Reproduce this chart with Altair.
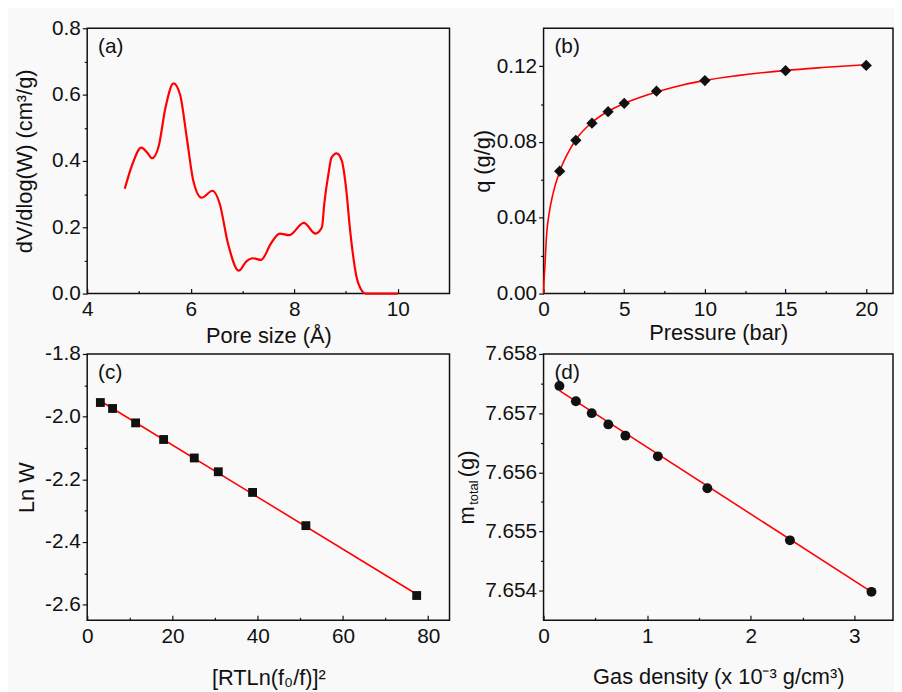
import altair as alt
import pandas as pd

FONT = "Liberation Sans"
RED = "#ff0000"
INK = "#111111"

# ---------------- (a) pore size distribution ----------------
pore_size = [4.726, 4.873, 5.045, 5.16, 5.255, 5.382, 5.51, 5.669, 5.796, 5.924,
             6.05, 6.21, 6.42, 6.56, 6.72, 6.93, 7.07, 7.20, 7.36, 7.55,
             7.72, 7.90, 8.185, 8.41, 8.535, 8.58, 8.66, 8.72, 8.82, 8.92,
             9.0, 9.08, 9.2, 9.3, 9.38, 10.0]
dv_dlogw = [0.316, 0.390, 0.440, 0.425, 0.408, 0.445, 0.559, 0.634, 0.599, 0.470,
            0.340, 0.289, 0.310, 0.271, 0.151, 0.069, 0.0965, 0.1065, 0.1015, 0.151,
            0.181, 0.176, 0.213, 0.181, 0.200, 0.270, 0.360, 0.410, 0.423, 0.400,
            0.320, 0.190, 0.053, 0.010, 0.0, 0.0]

# ---------------- (b) isotherm ----------------
pressure = [1, 2, 3, 4, 5, 7, 10, 15, 20]
q_gg = [0.0646, 0.0809, 0.0899, 0.0960, 0.1004, 0.1068, 0.1124, 0.1176, 0.1204]
fit_pressure = [0, 0.02, 0.05, 0.08, 0.18, 0.38, 0.58, 1, 1.5, 2, 3, 4, 5, 6, 7, 8,
                10, 12, 15, 17.5, 20]
fit_q = [0, 0.005, 0.010, 0.014, 0.030, 0.044, 0.0525, 0.0645, 0.0740, 0.0812,
         0.0903, 0.0962, 0.1003, 0.1036, 0.1064, 0.1088, 0.1125, 0.1150, 0.1178,
         0.1194, 0.1208]

# ---------------- (c) DR plot ----------------
rtln_sq = [3.09, 5.95, 11.36, 17.93, 25.12, 30.76, 38.8, 51.3, 77.3]
ln_w = [-1.955, -1.974, -2.020, -2.073, -2.132, -2.176, -2.242, -2.348, -2.571]
fit_rtln_sq = [3.09, 77.3]
fit_ln_w = [-1.950, -2.567]

# ---------------- (d) buoyancy ----------------
gas_density = [0.153, 0.312, 0.465, 0.625, 0.79, 1.103, 1.581, 2.378, 3.165]
m_total = [7.65746, 7.65720, 7.65700, 7.65681, 7.65662, 7.65627, 7.65573, 7.65485, 7.65398]
fit_gas_density = [0.153, 3.165]
fit_m_total = [7.65738, 7.65398]


def df(x, y):
    return pd.DataFrame({"x": x, "y": y})


def panel(layers, w, h, xdom, ydom, xmaj, xmin, ymaj, ymin, xtitle, ytitle,
          xfmt, yfmt, label, ytp, xtp, ylabelexpr=None, extra=None):
    xs = alt.Scale(domain=xdom, zero=False, nice=False)
    ys = alt.Scale(domain=ydom, zero=False, nice=False)
    xaxis = alt.Axis(values=xmaj, format=xfmt, orient="bottom", offset=-5, tickSize=5,
                     domain=False, grid=False, labelPadding=5, labelFlush=False,
                     labelOverlap=False, labelBound=False,
                     title=xtitle, titlePadding=xtp)
    yargs = dict(values=ymaj, format=yfmt, orient="left", tickSize=5, domain=False,
                 grid=False, labelPadding=2, labelFlush=False, labelOverlap=False,
                 titlePadding=ytp)
    if ylabelexpr:
        yargs["labelExpr"] = ylabelexpr
    if ytitle is None:
        yargs["title"] = None
    else:
        yargs["title"] = ytitle
    yaxis = alt.Axis(**yargs)

    charts = []
    first = True
    for data, kind, style in layers:
        base = alt.Chart(data)
        if kind == "line":
            m = base.mark_line(color=RED, strokeWidth=style.get("sw", 1.6),
                               interpolate=style.get("interp", "linear"))
        else:
            m = base.mark_point(shape=style["shape"], size=style["size"], filled=True,
                                color=INK, opacity=1)
        if first:
            enc = m.encode(x=alt.X("x:Q", scale=xs, axis=xaxis),
                           y=alt.Y("y:Q", scale=ys, axis=yaxis))
            first = False
        else:
            enc = m.encode(x=alt.X("x:Q", scale=xs, axis=None),
                           y=alt.Y("y:Q", scale=ys, axis=None))
        charts.append(enc)

    minor = alt.Chart(layers[0][0]).mark_point(opacity=0).encode(
        x=alt.X("x:Q", scale=xs,
                axis=alt.Axis(values=xmin, orient="bottom", offset=-3, tickSize=3,
                              labels=False, domain=False, grid=False, title=None)),
        y=alt.Y("y:Q", scale=ys,
                axis=alt.Axis(values=ymin, orient="left", tickSize=3,
                              labels=False, domain=False, grid=False, title=None)),
    )
    charts.append(minor)

    lab = alt.Chart(pd.DataFrame({"t": [label]})).mark_text(
        align="left", baseline="top", fontSize=21, font=FONT, color=INK
    ).encode(x=alt.value(11), y=alt.value(8), text="t:N")
    charts.append(lab)
    if extra is not None:
        charts.extend(extra)

    return alt.layer(*charts).resolve_axis(x="independent", y="independent").properties(
        width=w, height=h)


pa = panel(
    [(df(pore_size, dv_dlogw), "line", {"sw": 2.2, "interp": "monotone"})],
    366, 268, [4, 11], [0, 0.8], [4, 6, 8, 10], [5, 7, 9],
    [0, 0.2, 0.4, 0.6, 0.8], [0.1, 0.3, 0.5, 0.7],
    "Pore size (Å)", "dV/dlog(W) (cm³/g)", "d", ".1f", "(a)", 15, 6,
)

pb = panel(
    [(df(fit_pressure, fit_q), "line", {"sw": 1.6, "interp": "monotone"}),
     (df(pressure, q_gg), "point", {"shape": "diamond", "size": 130})],
    353, 268, [0, 21.66], [0, 0.14], [0, 5, 10, 15, 20], [2.5, 7.5, 12.5, 17.5],
    [0, 0.04, 0.08, 0.12], [0.02, 0.06, 0.10],
    "Pressure (bar)", "q (g/g)", "d", ".2f", "(b)", 2, 3,
)

pc = panel(
    [(df(fit_rtln_sq, fit_ln_w), "line", {"sw": 1.6}),
     (df(rtln_sq, ln_w), "point", {"shape": "square", "size": 80})],
    366, 269, [0, 85], [-2.65, -1.8], [0, 20, 40, 60, 80], [10, 30, 50, 70],
    [-2.6, -2.4, -2.2, -2.0, -1.8], [-2.5, -2.3, -2.1, -1.9],
    "[RTLn(f₀/f)]²", "Ln W", "d", ".1f", "(c)", 6, 22,
    ylabelexpr="'-' + format(abs(datum.value), '.1f')",
)

mt_title = [
    alt.Chart(pd.DataFrame({"t": ["m"]})).mark_text(
        angle=270, align="center", baseline="middle", fontSize=22, font=FONT, color=INK
    ).encode(x=alt.value(-77), y=alt.value(163), text="t:N"),
    alt.Chart(pd.DataFrame({"t": ["total"]})).mark_text(
        angle=270, align="center", baseline="middle", fontSize=13, font=FONT, color=INK
    ).encode(x=alt.value(-70), y=alt.value(140), text="t:N"),
    alt.Chart(pd.DataFrame({"t": ["(g)"]})).mark_text(
        angle=270, align="center", baseline="middle", fontSize=22, font=FONT, color=INK
    ).encode(x=alt.value(-77), y=alt.value(111), text="t:N"),
]

pd_ = panel(
    [(df(fit_gas_density, fit_m_total), "line", {"sw": 1.6}),
     (df(gas_density, m_total), "point", {"shape": "circle", "size": 100})],
    353, 269, [0, 3.373], [7.6535, 7.658], [0, 1, 2, 3], [0.5, 1.5, 2.5],
    [7.654, 7.655, 7.656, 7.657, 7.658], [7.6545, 7.6555, 7.6565, 7.6575],
    "Gas density (x 10⁻³ g/cm³)", None, "d", ".3f", "(d)", 10, 21,
    extra=mt_title,
)

chart = alt.concat(
    pa, pb, pc, pd_, columns=2, spacing={"row": 61, "column": 95}, bounds="flush"
).properties(
    padding={"left": 5, "top": 5, "right": 0, "bottom": 0},
    background="#f9f9f9",
).configure_view(
    stroke=INK, strokeWidth=1.5, fill=None
).configure_axis(
    labelFont=FONT, titleFont=FONT, labelFontSize=21, titleFontSize=22,
    titleFontWeight="normal", labelColor=INK, titleColor=INK,
    tickColor=INK, tickWidth=1.2,
)

chart.save("out.html", embed_options={"renderer": "svg", "actions": False})
